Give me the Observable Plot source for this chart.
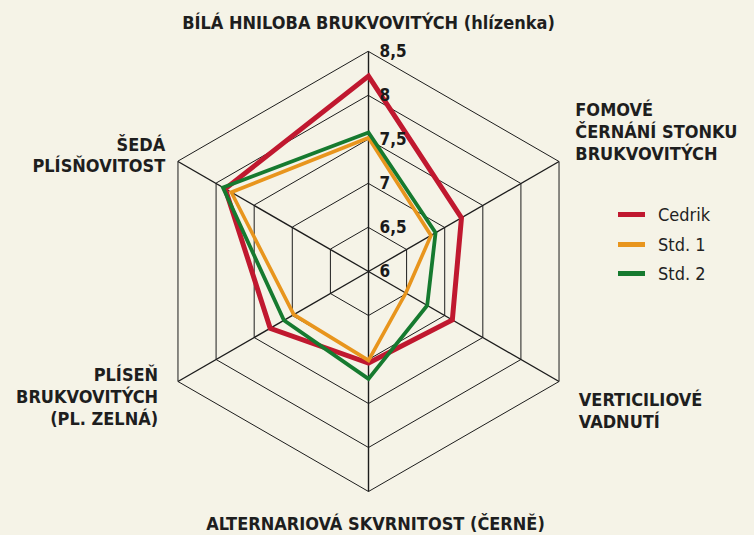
<!DOCTYPE html>
<html><head><meta charset="utf-8">
<script src="https://cdn.jsdelivr.net/npm/d3@7"></script>
<script src="https://cdn.jsdelivr.net/npm/@observablehq/plot@0.6"></script>
<style>
html,body{margin:0;padding:0;background:#f5f3e7;}
#wrap{position:relative;width:754px;height:535px;overflow:hidden;}
#legend{position:absolute;left:618px;top:200px;font-family:"Liberation Sans Narrow","DejaVu Sans Condensed","Open Sans",sans-serif;font-size:18px;color:#222;}
#legend div{display:flex;align-items:center;height:29.5px;}
#legend span.sw{display:inline-block;width:27px;height:5px;margin-right:13px;}
</style></head><body><div id="wrap"></div>
<script>
const axes = ["BÍLÁ HNILOBA BRUKVOVITÝCH (hlízenka)", "FOMOVÉ\nČERNÁNÍ STONKU\nBRUKVOVITÝCH", "VERTICILIOVÉ\nVADNUTÍ", "ALTERNARIOVÁ SKVRNITOST (ČERNĚ)", "PLÍSEŇ\nBRUKVOVITÝCH\n(PL. ZELNÁ)", "ŠEDÁ\nPLÍSŇOVITOST"];
const seriesNames = ["Cedrik", "Std. 1", "Std. 2"];
const cedrik = [8.22, 7.22, 7.10, 7.04, 7.29, 7.88];
const std1 = [7.52, 6.82, 6.49, 7.01, 6.98, 7.80];
const std2 = [7.58, 6.88, 6.77, 7.22, 7.11, 7.91];
const ticks = [6, 6.5, 7, 7.5, 8, 8.5];
const tickLabels = ["6", "6,5", "7", "7,5", "8", "8,5"];
const colors = ["#c0182f", "#e8951d", "#167a2f"];

// layout (not data)
const FONT = '"Liberation Sans Narrow","DejaVu Sans Condensed","Open Sans",sans-serif';
const PX = 88; // pixels per unit
const CX = 368, CY = 271, W = 754, H = 535;
const labelLayout = [
  {x: 0, y: 2.84, anchor: "middle"},
  {x: 2.35, y: 1.60, anchor: "start"},
  {x: 2.39, y: -1.57, anchor: "start"},
  {x: 0.08, y: -2.86, anchor: "middle"},
  {x: -2.39, y: -1.41, anchor: "end"},
  {x: -2.31, y: 1.33, anchor: "end"}
];

const base = ticks[0];
const polar = (i, v) => {
  const a = i * Math.PI / 3, r = v - base;
  return {x: r * Math.sin(a), y: r * Math.cos(a)};
};

const rings = ticks.slice(1).flatMap(t => axes.map((_, i) => ({ring: t, ...polar(i, t)})));
const spokes = axes.map((_, i) => ({i, ...polar(i, ticks[ticks.length - 1])}));
const seriesData = [cedrik, std1, std2].map((vals, s) =>
  vals.map((v, i) => ({series: seriesNames[s], ...polar(i, v)})));
const tickData = ticks.map((t, k) => ({label: tickLabels[k], ...polar(0, t)}));
const labelData = axes.map((name, i) => ({name, ...labelLayout[i]}));

const lineOpts = (k, w) => ({x: "x", y: "y", stroke: colors[k], strokeWidth: w, curve: "linear-closed", strokeLinejoin: "miter", strokeMiterlimit: 10});
const labelOpts = anchor => ({x: "x", y: "y", text: "name", textAnchor: anchor, lineHeight: 1.22, fontWeight: "bold", fontSize: 18, fill: "#1e1e1e"});

const chart = Plot.plot({
  width: W, height: H, margin: 0,
  style: {background: "transparent", fontFamily: FONT},
  x: {domain: [-CX / PX, (W - CX) / PX], axis: null},
  y: {domain: [-(H - CY) / PX, CY / PX], axis: null},
  marks: [
    Plot.line(rings, {x: "x", y: "y", z: "ring", curve: "linear-closed", stroke: "#1c1c1c", strokeWidth: 1}),
    Plot.link(spokes, {x1: 0, y1: 0, x2: "x", y2: "y", stroke: "#1c1c1c", strokeWidth: 1.4}),
    Plot.line(seriesData[0], lineOpts(0, 5)),
    Plot.line(seriesData[1], lineOpts(1, 3.6)),
    Plot.line(seriesData[2], lineOpts(2, 3.8)),
    Plot.text(tickData, {x: "x", y: "y", text: "label", dx: 11, textAnchor: "start", fontWeight: "bold", fontSize: 17, fill: "#1a1a1a"}),
    ...["start", "middle", "end"].map(a => Plot.text(labelData.filter(d => d.anchor === a), labelOpts(a)))
  ]
});
const wrap = document.getElementById("wrap");
wrap.appendChild(chart);
const legend = document.createElement("div");
legend.id = "legend";
seriesNames.forEach((n, k) => {
  const row = document.createElement("div");
  const sw = document.createElement("span");
  sw.className = "sw"; sw.style.background = colors[k];
  row.appendChild(sw);
  row.appendChild(document.createTextNode(n));
  legend.appendChild(row);
});
wrap.appendChild(legend);
</script></body></html>
